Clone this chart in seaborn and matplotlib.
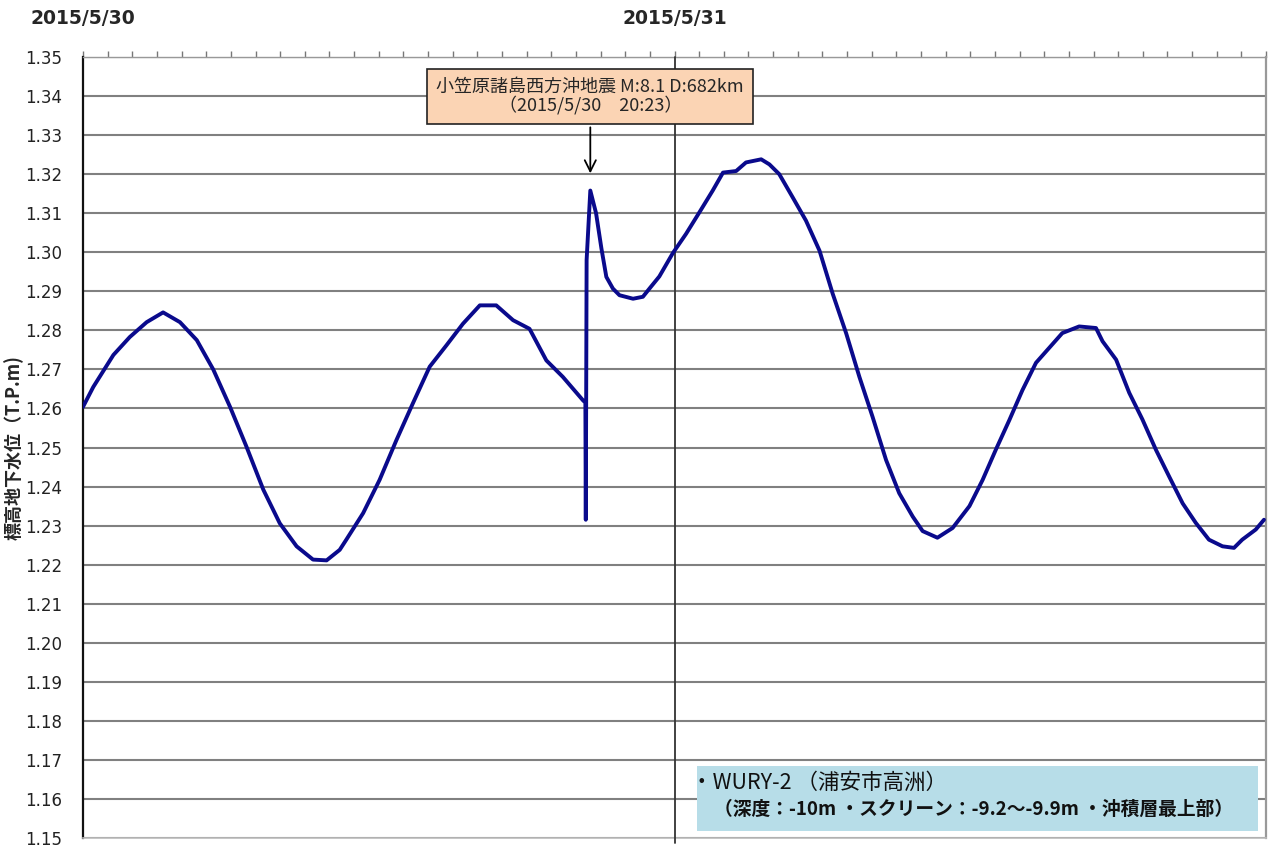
import pandas as pd
import matplotlib
matplotlib.use("Agg")
import matplotlib.pyplot as plt
import matplotlib.dates as mdates
from matplotlib.patches import Rectangle
import seaborn as sns

# groundwater level readings (T.P.m)
times = [
    "2015-05-30 00:00", "2015-05-30 00:25", "2015-05-30 01:14", "2015-05-30 01:54",
    "2015-05-30 02:35", "2015-05-30 03:15", "2015-05-30 03:56", "2015-05-30 04:37",
    "2015-05-30 05:17", "2015-05-30 05:58", "2015-05-30 06:38", "2015-05-30 07:19",
    "2015-05-30 07:59", "2015-05-30 08:40", "2015-05-30 09:20", "2015-05-30 09:53",
    "2015-05-30 10:25", "2015-05-30 10:41", "2015-05-30 11:22", "2015-05-30 12:02",
    "2015-05-30 12:43", "2015-05-30 13:23", "2015-05-30 14:04", "2015-05-30 14:45",
    "2015-05-30 15:25", "2015-05-30 16:06", "2015-05-30 16:46", "2015-05-30 17:27",
    "2015-05-30 18:07", "2015-05-30 18:48", "2015-05-30 19:28", "2015-05-30 20:17",
    "2015-05-30 20:23", "2015-05-30 20:24", "2015-05-30 20:26", "2015-05-30 20:35",
    "2015-05-30 20:49", "2015-05-30 21:02", "2015-05-30 21:14", "2015-05-30 21:30",
    "2015-05-30 21:46", "2015-05-30 22:19", "2015-05-30 22:43", "2015-05-30 22:59",
    "2015-05-30 23:23", "2015-05-30 23:56",
    "2015-05-31 00:28", "2015-05-31 01:01", "2015-05-31 01:33", "2015-05-31 01:58",
    "2015-05-31 02:30", "2015-05-31 02:54", "2015-05-31 03:31", "2015-05-31 03:51",
    "2015-05-31 04:15", "2015-05-31 04:48", "2015-05-31 05:20", "2015-05-31 05:53",
    "2015-05-31 06:25", "2015-05-31 06:58", "2015-05-31 07:30", "2015-05-31 08:02",
    "2015-05-31 08:35", "2015-05-31 09:07", "2015-05-31 09:40", "2015-05-31 10:04",
    "2015-05-31 10:40", "2015-05-31 11:17", "2015-05-31 11:58", "2015-05-31 12:30",
    "2015-05-31 13:02", "2015-05-31 13:35", "2015-05-31 14:07", "2015-05-31 14:40",
    "2015-05-31 15:12", "2015-05-31 15:44", "2015-05-31 16:25", "2015-05-31 17:06",
    "2015-05-31 17:22", "2015-05-31 17:55", "2015-05-31 18:27", "2015-05-31 18:59",
    "2015-05-31 19:32", "2015-05-31 20:04", "2015-05-31 20:37", "2015-05-31 21:09",
    "2015-05-31 21:41", "2015-05-31 22:14", "2015-05-31 22:42", "2015-05-31 23:02",
    "2015-05-31 23:35", "2015-05-31 23:55",
]
levels = [
    1.2604, 1.2655, 1.2737, 1.2783, 1.2821, 1.2846, 1.2821, 1.2775,
    1.2700, 1.2604, 1.2502, 1.2392, 1.2306, 1.2247, 1.2213, 1.2211,
    1.2238, 1.2264, 1.2332, 1.2417, 1.2519, 1.2613, 1.2707, 1.2762,
    1.2817, 1.2864, 1.2864, 1.2826, 1.2804, 1.2723, 1.2681, 1.2621,
    1.2615, 1.2315, 1.2980, 1.3158, 1.3100, 1.3010, 1.2937, 1.2907,
    1.2890, 1.2881, 1.2886, 1.2907, 1.2938, 1.2998,
    1.3047, 1.3103, 1.3158, 1.3204, 1.3208, 1.3230, 1.3238, 1.3225,
    1.3200, 1.3140, 1.3081, 1.3004, 1.2894, 1.2792, 1.2681, 1.2579,
    1.2468, 1.2383, 1.2323, 1.2286, 1.2269, 1.2294, 1.2350, 1.2417,
    1.2494, 1.2570, 1.2647, 1.2717, 1.2755, 1.2793, 1.2810, 1.2806,
    1.2772, 1.2725, 1.2640, 1.2572, 1.2494, 1.2426, 1.2357, 1.2307,
    1.2264, 1.2247, 1.2243, 1.2264, 1.2290, 1.2315,
]

day_ticks = ["2015-05-30", "2015-05-31", "2015-06-01"]
day_labels = ["2015/5/30", "2015/5/31", ""]
y_ticks = [round(1.15 + 0.01 * i, 2) for i in range(21)]

quake_time = "2015-05-30 20:35"
quake_text = "小笠原諸島西方沖地震 M:8.1 D:682km\n（2015/5/30　20:23）"
site_title = "・WURY-2 （浦安市高洲）"
site_detail = "（深度：-10m ・スクリーン：-9.2～-9.9m ・沖積層最上部）"

df = pd.DataFrame({"time": pd.to_datetime(times), "level": levels})

sns.set_theme(style="white")
plt.rcParams['font.family'] = ['DejaVu Sans', 'Noto Sans CJK JP']
jp = ['Noto Sans CJK JP', 'DejaVu Sans']

fig = plt.figure(figsize=(12.71, 8.47), dpi=100)
ax = fig.add_axes([0.0653, 0.0106, 0.9308, 0.9221])

sns.lineplot(data=df, x="time", y="level", ax=ax, color="#0a0a8c",
             linewidth=2.8, estimator=None, zorder=4)

ax.set_xlim(pd.Timestamp(day_ticks[0]), pd.Timestamp(day_ticks[-1]))
ax.set_ylim(1.15, 1.35)
ax.set_yticks(y_ticks)
ax.set_yticklabels([f"{v:.2f}" for v in y_ticks], fontsize=12)
ax.yaxis.grid(True, color="#808080", linewidth=1.5)
ax.xaxis.grid(False)
ax.tick_params(axis="y", length=0, pad=15, colors="#222222")

# dates on top, hourly minor ticks
ax.xaxis.tick_top()
ax.set_xticks([mdates.date2num(pd.Timestamp(d)) for d in day_ticks])
ax.set_xticklabels(day_labels, fontsize=13.5, fontweight="bold")
ax.xaxis.set_minor_locator(mdates.HourLocator())
ax.tick_params(axis="x", which="both", direction="out", length=4, width=1,
               color="#777777", pad=17)
ax.set_xlabel("")

ax.set_ylabel("標高地下水位（T.P.m)", family=jp, fontsize=13, fontweight="bold")
ax.yaxis.set_label_coords(-0.050, 0.5)

for side, col, lw in [("left", "#111111", 1.6), ("top", "#999999", 1.0),
                      ("right", "#999999", 1.6), ("bottom", "#bbbbbb", 1.2)]:
    ax.spines[side].set_color(col)
    ax.spines[side].set_linewidth(lw)

ax.axvline(pd.Timestamp(day_ticks[1]), ymin=-0.007, ymax=1, color="#333333",
           linewidth=1.3, clip_on=False, zorder=3)

ax.annotate(quake_text, xy=(pd.Timestamp(quake_time), 1.3195),
            xytext=(pd.Timestamp(quake_time), 1.3399),
            ha="center", va="center", family=jp, fontsize=13, linespacing=1.0,
            bbox=dict(boxstyle="square,pad=0.5", fc="#fbd4b4", ec="#222222", lw=1.2),
            arrowprops=dict(arrowstyle="->", color="black", lw=1.3, mutation_scale=20),
            zorder=6)

ax.add_patch(Rectangle((0.519, 0.009), 0.474, 0.083, transform=ax.transAxes,
                       facecolor="#b7dde8", edgecolor="none", zorder=5))
ax.text(0.514, 0.0704, site_title, transform=ax.transAxes, family=jp,
        fontsize=15.5, va="center", ha="left", color="#111111", zorder=6)
ax.text(0.533, 0.0370, site_detail, transform=ax.transAxes, family=jp,
        fontsize=13.5, fontweight="bold", va="center", ha="left", color="#111111", zorder=6)

fig.savefig("out.png", dpi=100)
